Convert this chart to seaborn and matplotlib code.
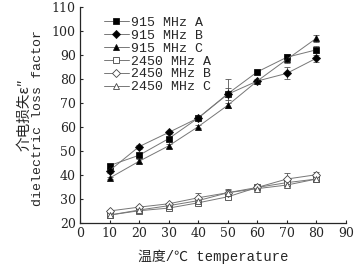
import numpy as np
import pandas as pd
import seaborn as sns
import matplotlib.pyplot as plt

temps = [10, 20, 30, 40, 50, 60, 70, 80]
labels = ['915 MHz A', '915 MHz B', '915 MHz C',
          '2450 MHz A', '2450 MHz B', '2450 MHz C']

mhz915_a = [43.8, 48.1, 55.0, 63.6, 73.7, 82.8, 88.9, 92.0]
mhz915_b = [41.7, 51.7, 57.6, 63.6, 73.5, 79.0, 82.2, 88.5]
mhz915_c = [38.6, 45.6, 52.0, 60.0, 68.9, 79.0, 88.0, 96.8]
mhz2450_a = [23.2, 25.0, 26.1, 28.3, 30.8, 34.7, 36.7, 38.2]
mhz2450_b = [24.9, 26.5, 27.9, 30.4, 32.5, 34.7, 38.2, 40.0]
mhz2450_c = [23.2, 25.3, 27.1, 29.2, 32.5, 34.2, 35.7, 38.2]

err915_a = [0.8, 0.8, 0.8, 0.5, 6.0, 0.5, 1.5, 1.5]
err915_b = [0.8, 0.8, 0.8, 0.5, 2.5, 0.8, 2.5, 1.5]
err915_c = [0.5, 0.8, 0.8, 0.5, 1.0, 0.5, 1.5, 1.5]
err2450_a = [0.8, 0.5, 0.8, 0.8, 1.0, 0.8, 1.0, 1.0]
err2450_b = [0.5, 0.5, 0.5, 2.0, 1.5, 1.0, 2.5, 1.0]
err2450_c = [0.5, 0.5, 0.5, 1.0, 1.0, 0.8, 1.0, 1.0]

values = [mhz915_a, mhz915_b, mhz915_c, mhz2450_a, mhz2450_b, mhz2450_c]
errors = [err915_a, err915_b, err915_c, err2450_a, err2450_b, err2450_c]
markers = ['s', 'D', '^', 's', 'D', '^']
sizes = [4.3, 3.8, 4.8, 4.3, 3.8, 4.8]
faces = ['black', 'black', 'black', 'white', 'white', 'white']

sns.set_style('ticks')
plt.rcParams['font.family'] = ['DejaVu Serif', 'Noto Sans CJK SC']
mono = ['Liberation Mono', 'Noto Sans CJK SC']

fig = plt.figure(figsize=(3.54, 2.75), dpi=100)
ax = fig.add_axes([0.226, 0.19, 0.751, 0.786])

for lab, vals, errs, m, ms, fc in zip(labels, values, errors, markers, sizes, faces):
    df = pd.DataFrame({'temp': temps, 'val': vals})
    ax.errorbar(temps, vals, yerr=errs, fmt='none', ecolor='#555555',
                elinewidth=0.6, capsize=2, capthick=0.6, zorder=1)
    sns.lineplot(data=df, x='temp', y='val', ax=ax, color='#777777',
                 linewidth=0.7, marker=m, markersize=ms,
                 markerfacecolor=fc,
                 markeredgecolor='#111111' if fc == 'black' else '#444444',
                 markeredgewidth=0.6, label=lab, zorder=3)

ax.set_xlim(0, 90)
ax.set_ylim(20, 110)
ax.set_xticks(range(0, 91, 10))
ax.set_yticks(range(20, 111, 10))
ax.tick_params(labelsize=9, length=2.5, width=0.8, pad=3, direction='in')
for s in ['top', 'right']:
    ax.spines[s].set_visible(False)
for s in ['left', 'bottom']:
    ax.spines[s].set_linewidth(0.9)

ax.set_xlabel('温度/℃ temperature', fontsize=10, family=mono, labelpad=7)
ax.set_ylabel('')
fig.text(25 / 354, 1 - 115 / 275, '介电损失ε″', rotation=90, ha='center',
         va='center', fontsize=10.5, family=['Noto Sans CJK SC', 'DejaVu Serif'])
fig.text(37.7 / 354, 1 - 118 / 275, 'dielectric loss factor', rotation=90,
         ha='center', va='center', fontsize=9.5, family=mono)

leg = ax.legend(loc='upper left', bbox_to_anchor=(0.06, 0.99), frameon=False,
                prop={'family': 'Liberation Mono', 'size': 9.5},
                handlelength=1.9, handletextpad=0.15, labelspacing=0.05,
                borderaxespad=0.2)

fig.savefig('out.png', dpi=100)
